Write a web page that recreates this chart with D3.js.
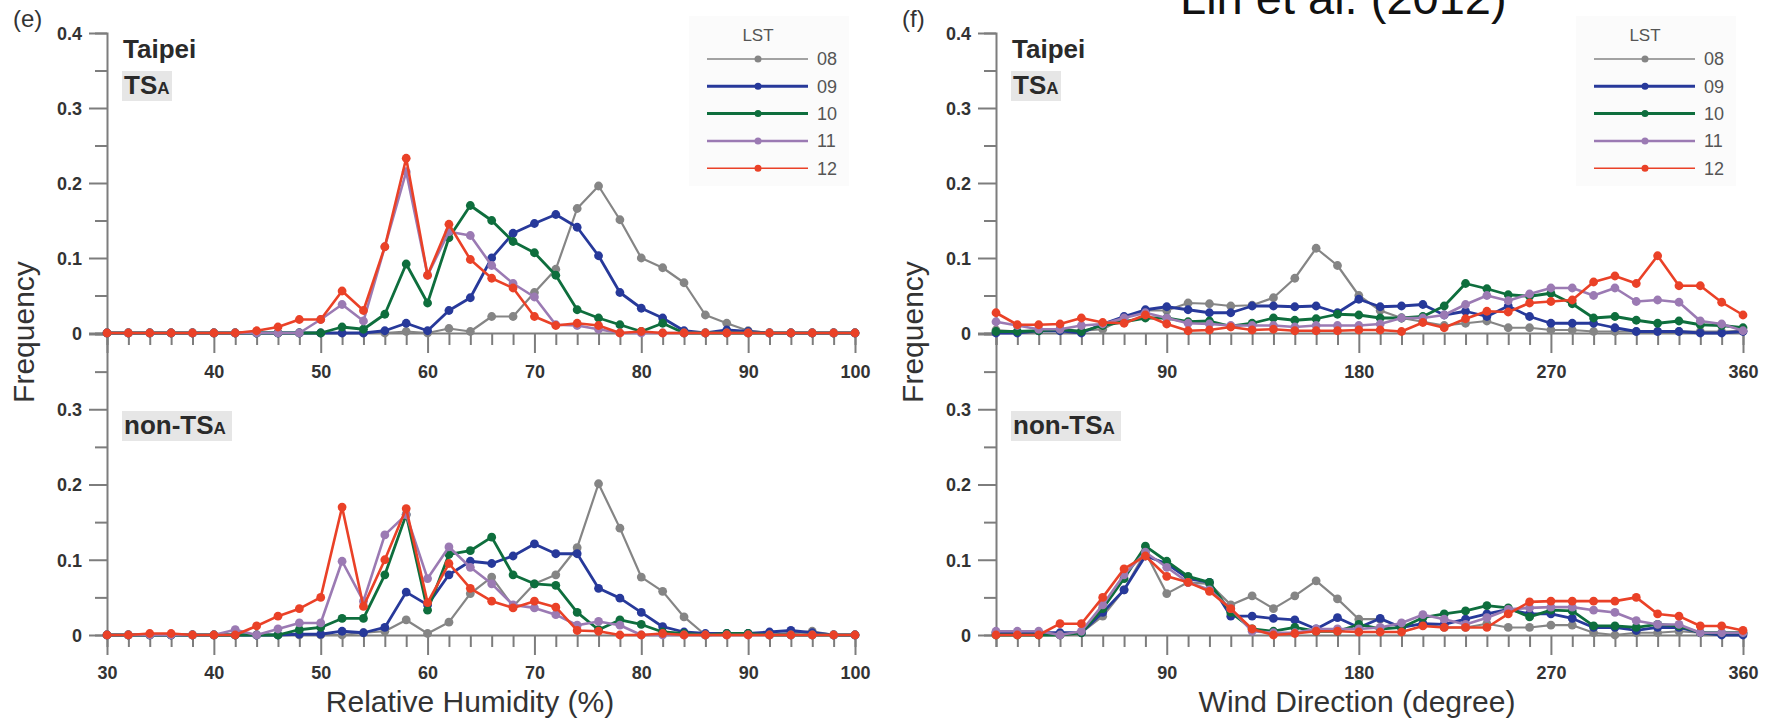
<!DOCTYPE html>
<html><head><meta charset="utf-8">
<script src="https://cdn.jsdelivr.net/npm/d3@7"></script>
<style>
body{margin:0;background:#fff}
svg{display:block}
text{font-family:"Liberation Sans",Arial,Helvetica,sans-serif}
</style>
</head><body>
<svg id="c" width="1783" height="724"></svg>
<script>
// ---------- data ----------
const hours = ["08","09","10","11","12"];
const seriesColors = ["#858585","#27399a","#0e6e3d","#9b7ab3","#ea4127"];

const rhBins = [30,32,34,36,38,40,42,44,46,48,50,52,54,56,58,60,62,64,66,68,70,72,74,76,78,80,82,84,86,88,90,92,94,96,98,100];
const wdBins = [10,20,30,40,50,60,70,80,90,100,110,120,130,140,150,160,170,180,190,200,210,220,230,240,250,260,270,280,290,300,310,320,330,340,350,360];

// Relative humidity, TSA days
const rhTsa08 = [0,0,0,0,0,0,0,0,0,0,0,0,0,0,0.002,0,0.006,0.002,0.022,0.022,0.054,0.085,0.166,0.196,0.151,0.100,0.087,0.067,0.024,0.013,0.003,0,0,0,0,0];
const rhTsa09 = [0,0,0,0,0,0,0,0,0,0,0,0,0,0.003,0.013,0.003,0.030,0.047,0.100,0.133,0.146,0.158,0.141,0.103,0.054,0.033,0.020,0.003,0,0.004,0.002,0,0,0,0,0];
const rhTsa10 = [0,0,0,0,0,0,0,0,0,0,0,0.008,0.005,0.025,0.092,0.040,0.127,0.170,0.150,0.122,0.107,0.077,0.031,0.020,0.011,0.002,0.013,0,0,0,0,0,0,0,0,0];
const rhTsa11 = [0,0,0,0,0,0,0,0,0,0,0.018,0.038,0.016,0.115,0.215,0.077,0.135,0.130,0.090,0.066,0.048,0.011,0.010,0.005,0,0,0,0,0,0,0,0,0,0,0,0];
const rhTsa12 = [0,0,0,0,0,0,0,0.003,0.008,0.018,0.018,0.056,0.030,0.115,0.233,0.077,0.145,0.098,0.073,0.060,0.022,0.010,0.013,0.010,0,0.002,0,0,0,0,0,0,0,0,0,0];

// Relative humidity, non-TSA days
const rhNon08 = [0,0,0,0,0,0,0,0,0,0,0,0,0.003,0.005,0.020,0.002,0.017,0.055,0.077,0.038,0.068,0.080,0.116,0.201,0.142,0.077,0.058,0.024,0,0,0.002,0,0.003,0.005,0,0];
const rhNon09 = [0,0,0,0,0,0,0,0,0,0.001,0.001,0.005,0.003,0.010,0.057,0.040,0.080,0.098,0.095,0.105,0.121,0.108,0.108,0.062,0.049,0.030,0.011,0.004,0.002,0.002,0.002,0.004,0.006,0.003,0,0];
const rhNon10 = [0,0,0,0,0,0,0,0,0,0.007,0.010,0.022,0.022,0.080,0.160,0.033,0.107,0.112,0.130,0.080,0.068,0.066,0.030,0.007,0.020,0.014,0.004,0.002,0,0.002,0.002,0,0,0,0,0];
const rhNon11 = [0,0,0,0,0,0,0.007,0,0.008,0.016,0.016,0.098,0.045,0.133,0.160,0.075,0.117,0.090,0.068,0.040,0.036,0.027,0.013,0.018,0.013,0,0,0,0,0,0,0,0,0,0,0];
const rhNon12 = [0,0,0.002,0.002,0,0,0,0.012,0.025,0.035,0.050,0.170,0.038,0.100,0.168,0.043,0.095,0.062,0.045,0.036,0.045,0.037,0.006,0.005,0,0,0.002,0,0,0,0,0,0,0,0,0];

// Wind direction, TSA days
const wdTsa08 = [0.004,0.002,0.003,0.003,0.003,0.005,0.020,0.030,0.030,0.040,0.039,0.036,0.037,0.047,0.073,0.113,0.090,0.050,0.030,0.020,0.015,0.010,0.013,0.016,0.007,0.007,0.004,0.004,0.002,0.002,0.002,0.002,0.002,0.002,0.002,0.003];
const wdTsa09 = [0,0,0.003,0.003,0,0.012,0.022,0.031,0.035,0.031,0.027,0.027,0.036,0.036,0.035,0.036,0.027,0.045,0.035,0.036,0.038,0.024,0.029,0.022,0.036,0.022,0.013,0.013,0.013,0.007,0.002,0.002,0.002,0,0,0.002];
const wdTsa10 = [0.002,0.002,0.003,0.005,0.002,0.010,0.015,0.020,0.020,0.015,0.016,0.009,0.013,0.020,0.017,0.019,0.025,0.024,0.020,0.020,0.022,0.036,0.066,0.059,0.051,0.049,0.053,0.039,0.020,0.022,0.017,0.013,0.016,0.011,0.010,0.007];
const wdTsa11 = [0.015,0.010,0.005,0.005,0.010,0.012,0.020,0.027,0.020,0.013,0.012,0.010,0.010,0.010,0.008,0.010,0.010,0.010,0.012,0.020,0.020,0.024,0.038,0.050,0.043,0.052,0.060,0.060,0.050,0.060,0.042,0.044,0.041,0.016,0.012,0.003];
const wdTsa12 = [0.027,0.011,0.011,0.012,0.020,0.014,0.013,0.024,0.012,0.003,0.004,0.008,0.004,0.005,0.003,0.003,0.003,0.004,0.004,0.002,0.014,0.007,0.019,0.029,0.028,0.040,0.042,0.044,0.068,0.076,0.066,0.103,0.063,0.063,0.041,0.024];

// Wind direction, non-TSA days
const wdNon08 = [0.003,0.003,0.003,0,0.003,0.025,0.060,0.110,0.055,0.070,0.068,0.040,0.052,0.035,0.052,0.072,0.048,0.021,0.021,0.010,0.015,0.010,0.010,0.015,0.010,0.010,0.013,0.013,0.003,0,0.003,0.003,0.005,0.003,0.002,0.002];
const wdNon09 = [0.003,0.003,0.003,0.003,0.003,0.030,0.060,0.105,0.095,0.075,0.070,0.025,0.025,0.022,0.020,0.008,0.023,0.010,0.022,0.010,0.015,0.014,0.021,0.028,0.034,0.028,0.028,0.022,0.010,0.010,0.006,0.010,0.010,0.003,0,0];
const wdNon10 = [0,0,0,0,0.003,0.035,0.075,0.118,0.098,0.078,0.070,0.030,0.008,0.005,0.010,0.005,0.005,0.014,0.008,0.010,0.023,0.028,0.032,0.039,0.036,0.024,0.033,0.032,0.012,0.012,0.010,0.014,0.012,0.003,0.003,0.003];
const wdNon11 = [0.005,0.005,0.005,0,0.005,0.040,0.080,0.110,0.090,0.070,0.060,0.035,0.005,0.003,0.003,0.008,0.008,0.008,0.010,0.016,0.027,0.021,0.014,0.023,0.034,0.036,0.037,0.037,0.033,0.030,0.019,0.014,0.014,0.003,0.003,0.003];
const wdNon12 = [0,0,0,0.015,0.015,0.050,0.088,0.105,0.078,0.070,0.058,0.035,0.008,0,0.002,0.005,0.005,0.004,0.004,0.004,0.012,0.010,0.010,0.010,0.028,0.044,0.045,0.045,0.045,0.045,0.050,0.028,0.025,0.012,0.012,0.006];

// ticks
const yTicks = [0,0.05,0.1,0.15,0.2,0.25,0.3,0.35,0.4];
const yMajor = [0,0.1,0.2,0.3,0.4];
const yLabelsTop = [0,0.1,0.2,0.3,0.4];
const yLabelsBottom = [0,0.1,0.2,0.3];
const rhMajor = [30,40,50,60,70,80,90,100];
const rhLabelsTop = [40,50,60,70,80,90,100];
const rhLabelsBottom = [30,40,50,60,70,80,90,100];
const wdMajor = [90,180,270,360];
const wdLabels = [90,180,270,360];

// ---------- drawing ----------
const svg = d3.select("#c");
const axisColor = "#7d7d7d";
const lineWidths = [2.2,2.8,2.8,2.6,2.6];

const xRH = d3.scaleLinear().domain([30,100]).range([107,855]);
const xWD = d3.scaleLinear().domain([10,360]).range([996,1743]);
const yTop = d3.scaleLinear().domain([0,0.4]).range([333,33]);
const yBot = d3.scaleLinear().domain([0,0.4]).range([635,334]);

const inSet = (arr,d) => arr.some(v => Math.abs(v-d) < 1e-9);

function yAxis(scale, xPos, labels){
  const g = svg.append("g").attr("transform",`translate(${xPos},0)`)
    .call(d3.axisLeft(scale).tickValues(yTicks).tickSizeOuter(0).tickSize(12).tickPadding(0)
      .tickFormat(d => inSet(labels,d) ? (d===0 ? "0" : d3.format(".1f")(d)) : ""));
  g.select(".domain").attr("stroke",axisColor).attr("stroke-width",2);
  g.selectAll(".tick line").attr("stroke",axisColor).attr("stroke-width",2)
    .attr("x2", d => inSet(yMajor,d) ? -18 : -12);
  g.selectAll(".tick text").attr("x",-25).attr("dy","0.35em")
    .attr("font-size",18).attr("font-weight","bold").attr("fill","#333")
    .attr("font-family",null);
}
function xAxis(scale, yPos, ticks, majors, labels, labelOffset){
  const g = svg.append("g").attr("transform",`translate(0,${yPos})`)
    .call(d3.axisBottom(scale).tickValues(ticks).tickSizeOuter(0).tickSize(12).tickPadding(0)
      .tickFormat(d => inSet(labels,d) ? String(d) : ""));
  g.select(".domain").attr("stroke",axisColor).attr("stroke-width",2);
  g.selectAll(".tick line").attr("stroke",axisColor).attr("stroke-width",2)
    .attr("y2", d => inSet(majors,d) ? 20 : 12);
  g.selectAll(".tick text").attr("y",labelOffset).attr("dy","0.35em")
    .attr("font-size",18).attr("font-weight","bold").attr("fill","#333")
    .attr("font-family",null);
}
function series(xs, bins, ys, data){
  data.forEach((vals,k) => {
    const pts = vals.map((v,i) => [bins[i], v]);
    svg.append("path").datum(pts)
      .attr("fill","none").attr("stroke",seriesColors[k]).attr("stroke-width",lineWidths[k])
      .attr("stroke-linejoin","round")
      .attr("d", d3.line().x(d => xs(d[0])).y(d => ys(d[1])));
    svg.append("g").selectAll("circle").data(pts).join("circle")
      .attr("cx", d => xs(d[0])).attr("cy", d => ys(d[1])).attr("r",4.4)
      .attr("fill",seriesColors[k]);
  });
}
function tag(x, yBase, main, sub, w){
  svg.append("rect").attr("x",x-2).attr("y",yBase-23).attr("width",w).attr("height",30).attr("fill","#e6e6e6");
  const t = svg.append("text").attr("x",x).attr("y",yBase).attr("fill","#2a2a2a").attr("font-weight","bold");
  t.append("tspan").attr("font-size",26).text(main);
  t.append("tspan").attr("font-size",17).text(sub);
}
function legend(x0){
  const g = svg.append("g");
  g.append("rect").attr("x",x0-18).attr("y",16).attr("width",160).attr("height",170).attr("fill","#fbfbfb");
  g.append("text").attr("x",x0+51).attr("y",41).attr("text-anchor","middle").attr("font-size",17).attr("fill","#555").text("LST");
  const legW = [1.6,3,3,2.5,1.6];
  hours.forEach((h,k) => {
    const y = 59 + k*27.3;
    g.append("line").attr("x1",x0).attr("x2",x0+101).attr("y1",y).attr("y2",y)
      .attr("stroke",seriesColors[k]).attr("stroke-width",legW[k]);
    g.append("circle").attr("cx",x0+51).attr("cy",y).attr("r",3.5).attr("fill",seriesColors[k]);
    g.append("text").attr("x",x0+110).attr("y",y).attr("dy","0.36em").attr("font-size",18).attr("fill","#555").text(h);
  });
}

// axes
yAxis(yTop,107,yLabelsTop); yAxis(yBot,107,yLabelsBottom);
yAxis(yTop,996,yLabelsTop); yAxis(yBot,996,yLabelsBottom);
xAxis(xRH,333,rhBins,rhMajor,rhLabelsTop,39);
xAxis(xRH,635,rhBins,rhMajor,rhLabelsBottom,38);
xAxis(xWD,333,wdBins,wdMajor,wdLabels,39);
xAxis(xWD,635,wdBins,wdMajor,wdLabels,38);

// legends and labels
legend(707); legend(1594);
[[107,"(e)"],[996,"(f)"]].forEach(([ax,lab]) => {
  svg.append("text").attr("x",ax-94).attr("y",27).attr("font-size",24).attr("fill","#333").text(lab);
  svg.append("text").attr("x",ax+16).attr("y",58).attr("font-size",26).attr("font-weight","bold").attr("fill","#2a2a2a").text("Taipei");
  tag(ax+17, 94, "TS", "A", 50);
  tag(ax+17, 434, "non-TS", "A", 110);
  svg.append("text").attr("transform",`translate(${ax-73},332) rotate(-90)`).attr("text-anchor","middle")
    .attr("font-size",30).attr("fill","#333").text("Frequency");
});
svg.append("text").attr("x",470).attr("y",712).attr("text-anchor","middle").attr("font-size",30).attr("fill","#333").text("Relative Humidity (%)");
svg.append("text").attr("x",1357).attr("y",712).attr("text-anchor","middle").attr("font-size",30).attr("fill","#333").text("Wind Direction (degree)");
svg.append("text").attr("x",1180).attr("y",14).attr("font-size",47).attr("fill","#111").text("Lin et al. (2012)");

// data
series(xRH, rhBins, yTop, [rhTsa08,rhTsa09,rhTsa10,rhTsa11,rhTsa12]);
series(xRH, rhBins, yBot, [rhNon08,rhNon09,rhNon10,rhNon11,rhNon12]);
series(xWD, wdBins, yTop, [wdTsa08,wdTsa09,wdTsa10,wdTsa11,wdTsa12]);
series(xWD, wdBins, yBot, [wdNon08,wdNon09,wdNon10,wdNon11,wdNon12]);
</script>
</body></html>
